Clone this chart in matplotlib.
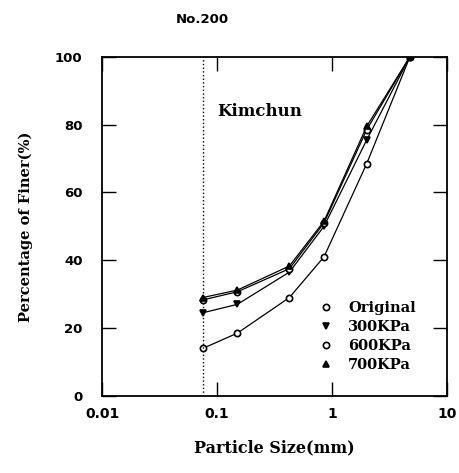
import matplotlib
matplotlib.use("Agg")
from matplotlib import pyplot as plt
import numpy as np

# sieve sizes (mm) and percent finer for each loading
sizes = [0.075, 0.15, 0.425, 0.85, 2.0, 4.75]
original = [14, 18.5, 29, 41, 68.5, 100]
kpa300 = [24.5, 27, 36.5, 50, 75.5, 100]
kpa600 = [28.3, 30.7, 37.5, 51, 78.5, 100]
kpa700 = [29, 31.2, 38.3, 51.5, 79.5, 100]

series = [
    ("Original", original, "o", "white"),
    ("300KPa", kpa300, "v", "black"),
    ("600KPa", kpa600, "o", "white"),
    ("700KPa", kpa700, "^", "black"),
]

plt.rcParams["font.family"] = "DejaVu Sans"
plt.rcParams["font.weight"] = "bold"

fig = plt.figure(figsize=(4.6, 4.73), dpi=100)
ax = fig.add_axes([0.222, 0.163, 0.75, 0.717])

for name, vals, mk, fc in series:
    ax.plot(sizes, vals, color="black", linewidth=0.9, marker=mk, markersize=4.5,
            markerfacecolor=fc, markeredgecolor="black", markeredgewidth=1.2, label=name)

ax.axvline(0.075, color="black", linestyle=":", linewidth=1.0)

ax.set_xscale("log")
ax.set_xlim(0.01, 10)
ax.set_ylim(0, 100)
ax.set_xticks([0.01, 0.1, 1, 10])
ax.set_xticklabels(["0.01", "0.1", "1", "10"])
ax.set_yticks([0, 20, 40, 60, 80, 100])
ax.minorticks_off()
ax.tick_params(direction="in", length=10, width=1.0, top=True, right=True,
               labelsize=10, pad=8)
ax.tick_params(axis="y", pad=14, labelsize=9.5)
for sp in ax.spines.values():
    sp.set_linewidth(1.3)

ax.text(0.1, 84, "Kimchun", fontsize=12, fontweight="bold", va="center", ha="left",
        family="DejaVu Serif")
ax.text(0.075, 1.11, "No.200", transform=ax.get_xaxis_transform(), fontsize=9.5,
        fontweight="bold", ha="center", va="center")

ax.set_xlabel("Particle Size(mm)", fontsize=11.5, fontweight="bold", labelpad=13,
              family="DejaVu Serif")
ax.set_ylabel("Percentage of Finer(%)", fontsize=10.5, fontweight="bold", labelpad=16,
              family="DejaVu Serif")

ax.legend(loc="upper left", bbox_to_anchor=(0.62, 0.31), frameon=False, handlelength=0,
          handletextpad=1.5, labelspacing=0.35, borderpad=0.2,
          prop={"family": "DejaVu Serif", "weight": "bold", "size": 10.5})

fig.savefig("out.png", dpi=100)
